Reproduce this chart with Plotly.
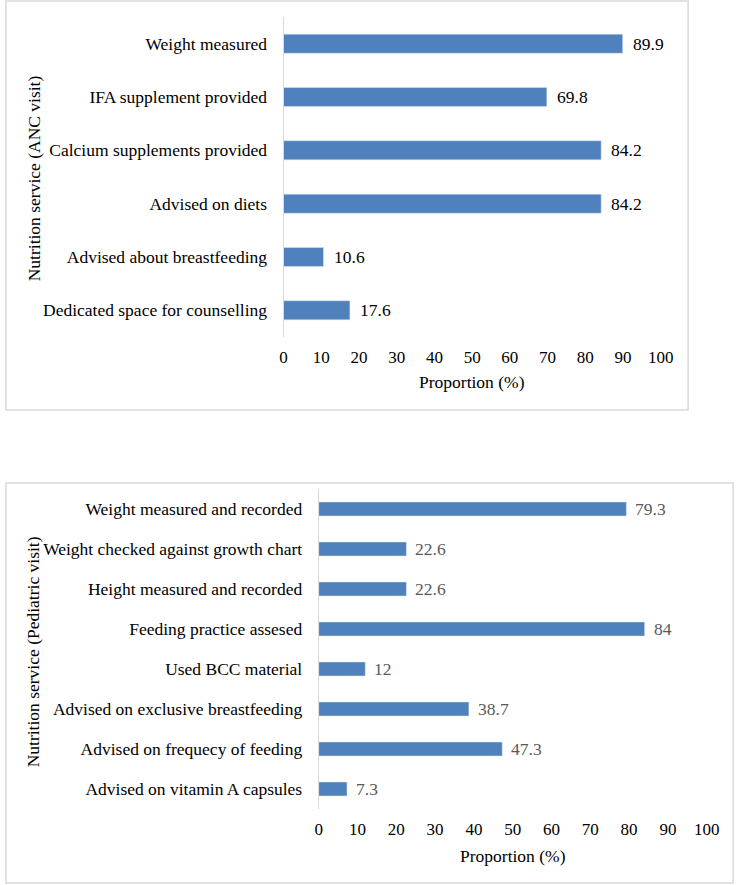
import plotly.graph_objects as go

# Top chart (ANC visit)
anc_categories = ["Weight measured", "IFA supplement provided", "Calcium supplements provided",
                  "Advised on diets", "Advised about breastfeeding", "Dedicated space for counselling"]
anc_values = [89.9, 69.8, 84.2, 84.2, 10.6, 17.6]
anc_labels = ["89.9", "69.8", "84.2", "84.2", "10.6", "17.6"]

# Bottom chart (Pediatric visit)
ped_categories = ["Weight measured and recorded", "Weight checked against growth chart",
                  "Height measured and recorded", "Feeding practice assesed", "Used BCC material",
                  "Advised on exclusive breastfeeding", "Advised on frequecy of feeding",
                  "Advised on vitamin A capsules"]
ped_values = [79.3, 22.6, 22.6, 84, 12, 38.7, 47.3, 7.3]
ped_labels = ["79.3", "22.6", "22.6", "84", "12", "38.7", "47.3", "7.3"]

x_ticks = [0, 10, 20, 30, 40, 50, 60, 70, 80, 90, 100]

W, H = 750, 885
FONT = "Liberation Serif, Times New Roman, serif"
BAR = "#4F81BD"
FS = 17.5


def px(x):
    return x / W


def py(y):
    return 1 - y / H


fig = go.Figure()
fig.add_trace(go.Bar(
    x=anc_values, y=anc_categories, orientation="h", xaxis="x", yaxis="y",
    marker=dict(color=BAR, line=dict(color="#dce6f2", width=0.5)), width=0.357,
    showlegend=False, hoverinfo="x+y",
))
fig.add_trace(go.Bar(
    x=ped_values, y=ped_categories, orientation="h", xaxis="x2", yaxis="y2",
    marker=dict(color=BAR, line=dict(color="#dce6f2", width=0.5)), width=0.35,
    showlegend=False, hoverinfo="x+y",
))

axis_common = dict(
    range=[0, 100], tickvals=x_ticks, showgrid=False, zeroline=False, showline=False,
    ticks="outside", ticklen=5, tickcolor="rgba(0,0,0,0)",
    tickfont=dict(family=FONT, size=17, color="#000000"), fixedrange=True,
)
yaxis_common = dict(
    showgrid=False, zeroline=False, showline=True, linecolor="#d9d9d9", linewidth=1,
    ticks="outside", ticklen=12, tickcolor="rgba(0,0,0,0)",
    tickfont=dict(family=FONT, size=FS, color="#000000"), fixedrange=True,
)

annotations = [
    dict(text="Proportion (%)", xref="paper", yref="paper", x=px(479), y=py(382),
         xanchor="center", yanchor="middle",
         showarrow=False, font=dict(family=FONT, size=FS, color="#000000")),
    dict(text="Proportion (%)", xref="paper", yref="paper", x=px(521), y=py(856),
         xanchor="center", yanchor="middle",
         showarrow=False, font=dict(family=FONT, size=FS, color="#000000")),
    dict(text="Nutrition service (ANC visit)", xref="paper", yref="paper", x=px(31), y=py(178),
         xanchor="center", yanchor="middle",
         showarrow=False, textangle=-90, font=dict(family=FONT, size=FS, color="#000000")),
    dict(text="Nutrition service (Pediatric visit)", xref="paper", yref="paper", x=px(30), y=py(652),
         xanchor="center", yanchor="middle",
         showarrow=False, textangle=-90, font=dict(family=FONT, size=FS, color="#000000")),
]
for v, c, t in zip(anc_values, anc_categories, anc_labels):
    annotations.append(dict(x=v, y=c, xref="x", yref="y", text=t, showarrow=False,
                            xanchor="left", yanchor="middle", xshift=8,
                            font=dict(family=FONT, size=FS, color="#000000")))
for v, c, t in zip(ped_values, ped_categories, ped_labels):
    annotations.append(dict(x=v, y=c, xref="x2", yref="y2", text=t, showarrow=False,
                            xanchor="left", yanchor="middle", xshift=7,
                            font=dict(family=FONT, size=FS, color="#595959")))

fig.update_layout(
    width=W, height=H,
    margin=dict(l=0, r=0, t=0, b=0),
    paper_bgcolor="white", plot_bgcolor="white",
    xaxis=dict(domain=[px(286), px(672)], anchor="y", **axis_common),
    yaxis=dict(domain=[py(337), py(17)], anchor="x", autorange="reversed",
               categoryorder="array", categoryarray=anc_categories, **yaxis_common),
    xaxis2=dict(domain=[px(322), px(719)], anchor="y2", **axis_common),
    yaxis2=dict(domain=[py(809), py(489)], anchor="x2", autorange="reversed",
                categoryorder="array", categoryarray=ped_categories, **yaxis_common),
    shapes=[
        dict(type="rect", xref="paper", yref="paper", x0=px(2), x1=px(700), y0=py(410), y1=py(1),
             line=dict(color="#d9d9d9", width=1.5)),
        dict(type="rect", xref="paper", yref="paper", x0=px(2), x1=px(746), y0=py(883), y1=py(483),
             line=dict(color="#d9d9d9", width=1.5)),
    ],
    annotations=annotations,
)

fig.write_html("out.html", config={"displayModeBar": False},
               post_script="document.body.style.margin='0';document.body.style.padding='0';")
